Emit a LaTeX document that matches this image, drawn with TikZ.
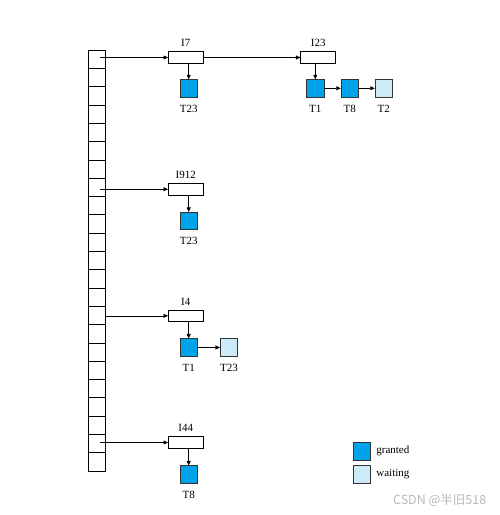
\documentclass[tikz,border=0pt]{standalone}
\usepackage{fontspec}
\setmainfont{Liberation Serif}
\newfontfamily\cjk{Noto Sans CJK SC}
\usetikzlibrary{arrows.meta}
\definecolor{grantblue}{HTML}{00A2E8}
\definecolor{waitblue}{HTML}{CCEAF8}

\begin{document}
\begin{tikzpicture}[x=1pt, y=-1pt, line width=0.6pt,
    font=\fontsize{11}{13}\selectfont,
    cell/.style={draw, minimum width=17.3pt, minimum height=18.3pt, inner sep=0pt},
    lockbox/.style={draw, minimum width=35pt, minimum height=11.6pt, inner sep=0pt},
    txn/.style={draw=black!80, minimum size=17.5pt, inner sep=0pt},
    granted/.style={txn, fill=grantblue},
    waiting/.style={txn, fill=waitblue},
    ptr/.style={-{Triangle[length=4.5pt, width=4pt]}}]
  \useasboundingbox (0,0) rectangle (499,515);

  % Hash table column, 23 buckets
  \foreach \i in {1,...,23} {
    \node[cell] (c\i) at (96.65, {50+(\i-0.5)*18.3}) {};
  }

  % Lock heads
  \node[lockbox, label={[label distance=1pt]above:I7}]   (i7)   at (185.8, 57.5) {};
  \node[lockbox, label={[label distance=1pt]above:I23}]  (i23)  at (318.2, 57.5) {};
  \node[lockbox, label={[label distance=1pt]above:I912}] (i912) at (185.8, 189.2) {};
  \node[lockbox, label={[label distance=1pt]above:I4}]   (i4)   at (185.8, 315.8) {};
  \node[lockbox, label={[label distance=1pt]above:I44}]  (i44)  at (185.8, 442.5) {};

  % Transaction requests
  \node[granted, label={[label distance=4pt]below:T23}] (t7a)   at (188.7, 88.3) {};
  \node[granted, label={[label distance=4pt]below:T1}]  (t23a)  at (315.3, 88.3) {};
  \node[granted, label={[label distance=4pt]below:T8}]  (t23b)  at (349.8, 88.3) {};
  \node[waiting, label={[label distance=4pt]below:T2}]  (t23c)  at (383.8, 88.3) {};
  \node[granted, label={[label distance=4pt]below:T23}] (t912a) at (188.7, 221) {};
  \node[granted, label={[label distance=4pt]below:T1}]  (t4a)   at (188.7, 347.5) {};
  \node[waiting, label={[label distance=4pt]below:T23}] (t4b)   at (229, 347.5) {};
  \node[granted, label={[label distance=4pt]below:T8}]  (t44a)  at (188.7, 474.5) {};

  % Bucket pointers
  \draw[ptr] ([xshift=3pt]c1.center |- i7.west) -- (i7.west);
  \draw[ptr] ([xshift=3pt]c8.center |- i912.west) -- (i912.west);
  \draw[ptr] (c15.east |- i4.west) -- (i4.west);
  \draw[ptr] ([xshift=3pt]c22.center |- i44.west) -- (i44.west);
  \draw[ptr] (i7.east) -- (i23.west);

  % Request lists
  \draw[ptr] (t7a.north |- i7.south) -- (t7a.north);
  \draw[ptr] (t23a.north |- i23.south) -- (t23a.north);
  \draw[ptr] (t23a.east) -- (t23b.west);
  \draw[ptr] (t23b.east) -- (t23c.west);
  \draw[ptr] (t912a.north |- i912.south) -- (t912a.north);
  \draw[ptr] (t4a.north |- i4.south) -- (t4a.north);
  \draw[ptr] (t4a.east) -- (t4b.west);
  \draw[ptr] (t44a.north |- i44.south) -- (t44a.north);

  % Legend
  \node[granted] (lgrant) at (361.7, 451.2) {};
  \node[waiting] (lwait)  at (361.7, 474.5) {};
  \node[anchor=west] (tgrant) at ([xshift=2pt]lgrant.east) {granted};
  \node[anchor=west] (twait)  at ([xshift=2pt]lwait.east) {waiting};

  % Watermark
  \node[text=black!28, font=\cjk\fontsize{12.5}{14}\selectfont] (mark) at (439.7, 500.7) {CSDN @半旧518};
\end{tikzpicture}
\end{document}
